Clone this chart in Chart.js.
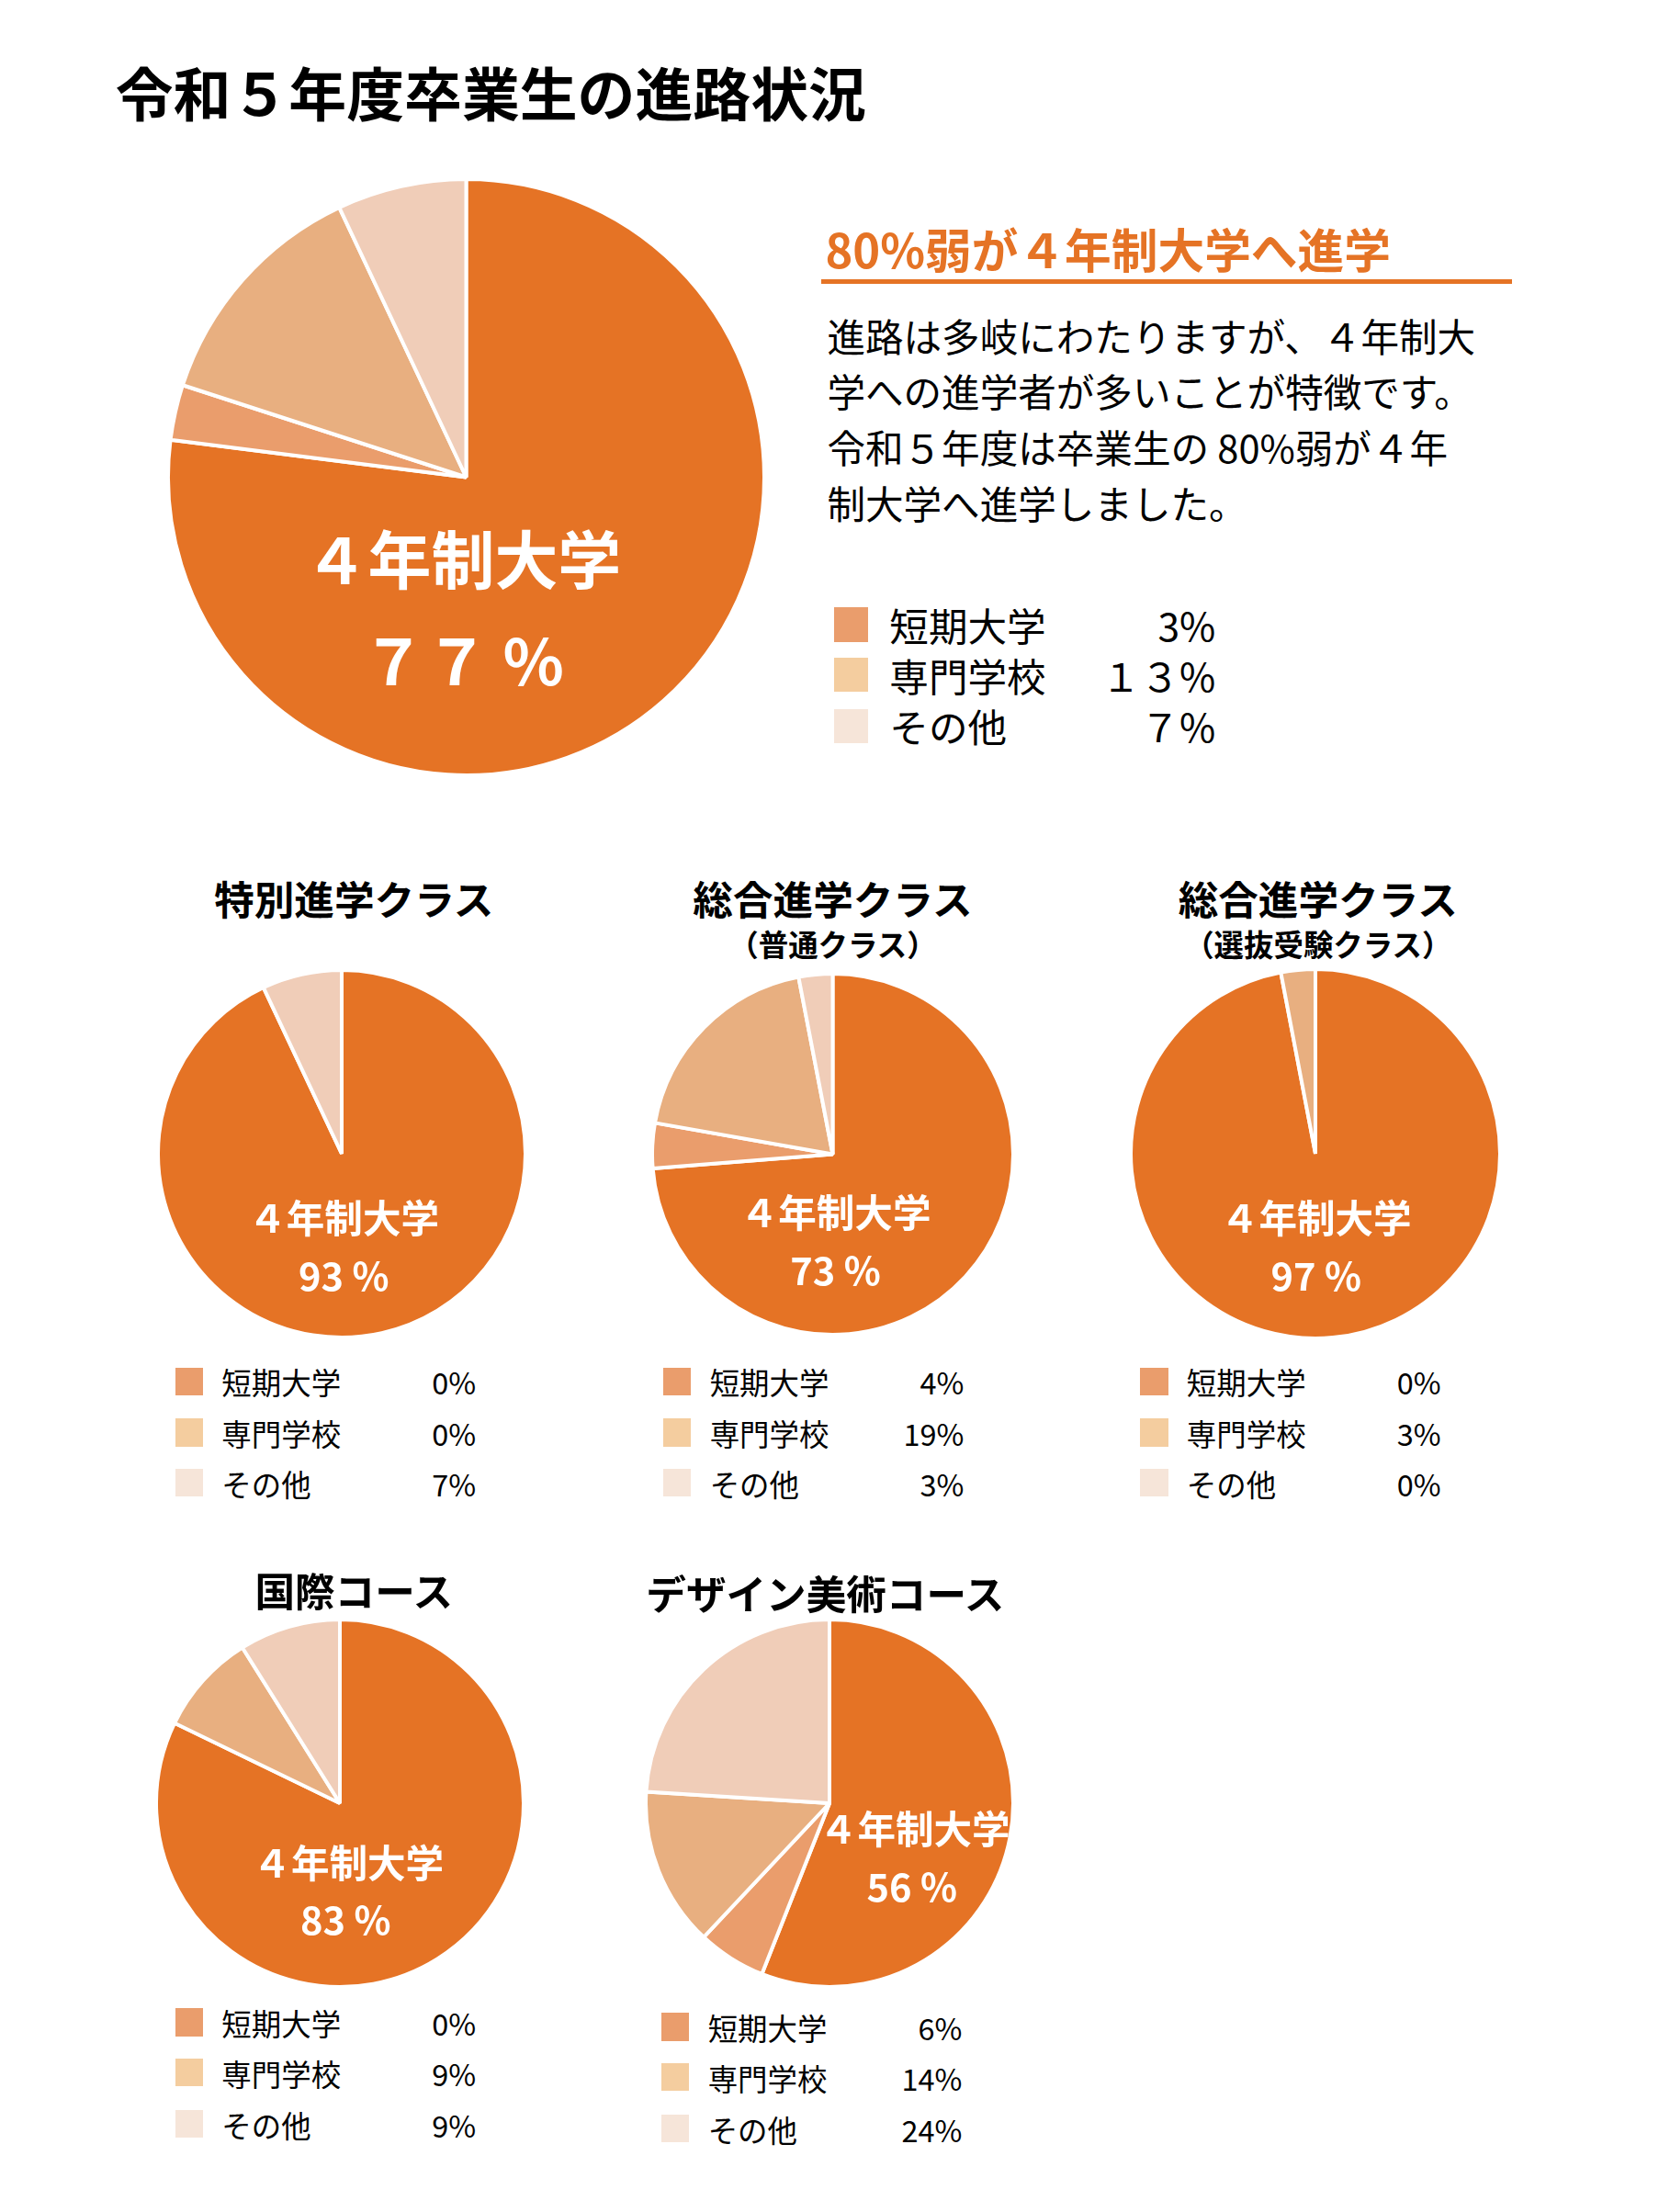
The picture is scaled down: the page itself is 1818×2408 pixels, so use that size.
<!DOCTYPE html>
<html><head><meta charset="utf-8">
<script src="https://cdn.jsdelivr.net/npm/chart.js@4"></script>
<style>
body{margin:0;width:1818px;height:2408px;background:#fff;font-family:"Noto Sans CJK JP","Noto Sans",sans-serif;position:relative;overflow:hidden}
.a{position:absolute;white-space:nowrap}
.c{transform:translate(-50%,-50%);text-align:center}
.lbl{color:#fff;font-weight:bold}
</style></head><body>
<script>
const categories=["4年制大学","短期大学","専門学校","その他"];
const mainValues=[77,3,13,7];
const tokushinValues=[93,0,0,7];
const sogoFutsuValues=[73,4,19,3];
const sogoSenbatsuValues=[97,0,3,0];
const kokusaiValues=[83,0,9,9];
const designValues=[56,6,14,24];
const mainLegendText=["3%","１３%","７%"];
const sliceColors=["#E57325","#EA9D6C","#E8AF80","#F0CDB8"];
const legendColors=["#EA9D6C","#F4CD9F","#F6E5D9"];

const S=1.014;
const SC=['left','top','width','height','fontSize','lineHeight'];
function add(html,style,cls){const d=document.createElement('div');d.className='a '+(cls||'');d.innerHTML=html;
  for(const k in style){let v=style[k];if(SC.includes(k)&&typeof v==='number')v=(v*S)+'px';d.style[k]=v;}
  document.body.appendChild(d);return d;}
function pie(values,cx,cy,r){
  cx*=S;cy*=S;r*=S;
  const cv=document.createElement('canvas');const s=Math.round(2*r+4);
  cv.width=s;cv.height=s;cv.style.cssText=`position:absolute;left:${cx-s/2}px;top:${cy-s/2}px;width:${s}px;height:${s}px`;
  document.body.appendChild(cv);
  new Chart(cv,{type:'pie',data:{labels:categories,datasets:[{data:values,backgroundColor:sliceColors,borderColor:'#fff',borderWidth:4}]},
    options:{responsive:false,animation:false,devicePixelRatio:1,layout:{padding:0},plugins:{legend:{display:false},tooltip:{enabled:false}}}});
}
add("令和５年度卒業生の進路状況",{left:124,top:52,fontSize:62,fontWeight:'bold',color:'#000'});
pie(mainValues,500,512,320);
add("４年制大学",{left:497,top:598,fontSize:68},'c lbl');
add("７７ %",{left:497,top:706,fontSize:68},'c lbl');
add("80%弱が４年制大学へ進学",{left:886,top:230,fontSize:50,fontWeight:'bold',color:'#E57325'});
add("",{left:882,top:300,width:741,height:5,background:'#E57325'});
add("進路は多岐にわたりますが、４年制大<br>学への進学者が多いことが特徴です。<br>令和５年度は卒業生の 80%弱が４年<br>制大学へ進学しました。",{left:888,top:330,fontSize:41,lineHeight:60,color:'#000'});
const mainRows=[670,724,779];
for(let i=0;i<3;i++){
  add("",{left:895,top:mainRows[i]-18,width:37,height:37,background:legendColors[i]});
  add(categories[i+1],{left:955,top:mainRows[i]-30,fontSize:42,color:'#000'});
  add(mainLegendText[i],{left:1105,width:200,textAlign:'right',top:mainRows[i]-30,fontSize:42,color:'#000'});
}
const smalls=[
 {v:tokushinValues,cx:367,cy:1239,r:197,t:"特別進学クラス",tx:380,ty:964,sub:null,l1:[369,1306],l2:[369,1368],sw:188,tl:238,pr:511,rows:[1483,1538,1592]},
 {v:sogoFutsuValues,cx:894,cy:1239,r:194,t:"総合進学クラス",tx:894,ty:964,sub:"（普通クラス）",l1:[897,1300],l2:[897,1362],sw:712,tl:762,pr:1035,rows:[1483,1538,1592]},
 {v:sogoSenbatsuValues,cx:1412,cy:1239,r:198,t:"総合進学クラス",tx:1415,ty:964,sub:"（選抜受験クラス）",l1:[1413,1306],l2:[1413,1368],sw:1224,tl:1274,pr:1547,rows:[1483,1538,1592]},
 {v:kokusaiValues,cx:365,cy:1936,r:197,t:"国際コース",tx:380,ty:1706,sub:null,l1:[374,1998],l2:[371,2059],sw:188,tl:238,pr:511,rows:[2171,2225,2280]},
 {v:designValues,cx:891,cy:1936,r:197,t:"デザイン美術コース",tx:886,ty:1709,sub:null,l1:[982,1962],l2:[979,2024],sw:710,tl:760,pr:1033,rows:[2176,2230,2285]}
];
smalls.forEach(p=>{
  pie(p.v,p.cx,p.cy,p.r);
  add(p.t,{left:p.tx,top:p.ty,fontSize:43,fontWeight:'bold',color:'#000'},'c');
  if(p.sub) add(p.sub,{left:p.tx,top:1012,fontSize:32,fontWeight:'bold',color:'#000'},'c');
  add("４年制大学",{left:p.l1[0],top:p.l1[1],fontSize:41},'c lbl');
  add(p.v[0]+" %",{left:p.l2[0],top:p.l2[1],fontSize:41},'c lbl');
  for(let i=0;i<3;i++){
    add("",{left:p.sw,top:p.rows[i]-15,width:30,height:30,background:legendColors[i]});
    add(categories[i+1],{left:p.tl,top:p.rows[i]-23,fontSize:32,color:'#000'});
    add(p.v[i+1]+"%",{left:p.pr-120,width:120,textAlign:'right',top:p.rows[i]-23,fontSize:32,color:'#000'});
  }
});
</script>
</body></html>
